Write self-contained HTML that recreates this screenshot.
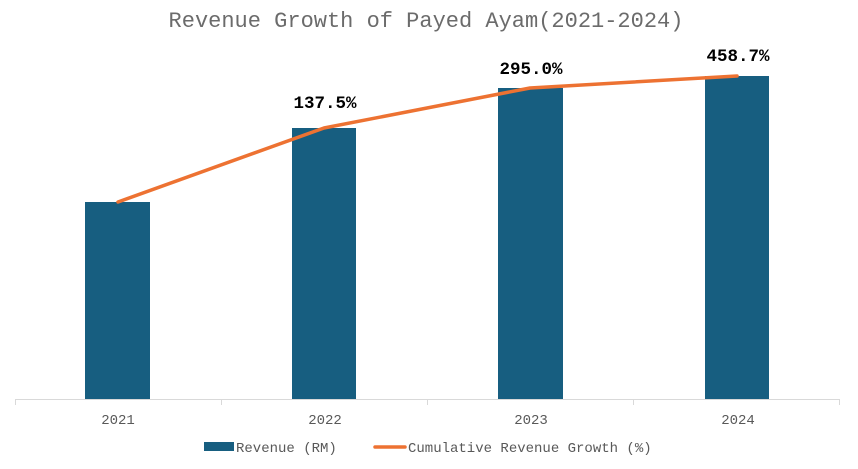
<!DOCTYPE html>
<html><head><meta charset="utf-8"><style>
body{margin:0;background:#fff;}
svg{display:block;}
</style></head><body>
<svg width="858" height="469" xmlns="http://www.w3.org/2000/svg" font-family="'Liberation Mono', monospace">
<text x="426" y="27" text-anchor="middle" font-size="22" fill="#6b6b6b">Revenue Growth of Payed Ayam(2021-2024)</text>
<rect x="85" y="202" width="65" height="197" fill="#175e80"/>
<rect x="292" y="128" width="64" height="271" fill="#175e80"/>
<rect x="498" y="88" width="65" height="311" fill="#175e80"/>
<rect x="705" y="76" width="64" height="323" fill="#175e80"/>
<line x1="15" y1="399.5" x2="840" y2="399.5" stroke="#d9d9d9" stroke-width="1"/>
<g stroke="#d9d9d9"><line x1="15.5" y1="399" x2="15.5" y2="405"/><line x1="221.5" y1="399" x2="221.5" y2="405"/><line x1="427.5" y1="399" x2="427.5" y2="405"/><line x1="633.5" y1="399" x2="633.5" y2="405"/><line x1="839.5" y1="399" x2="839.5" y2="405"/></g>
<polyline points="118,202 324,128 530,88 737,76" fill="none" stroke="#ed7232" stroke-width="3.5" stroke-linejoin="round" stroke-linecap="round"/>
<g font-size="17.5" font-weight="bold" fill="#000" text-anchor="middle">
<text x="325" y="108">137.5%</text><text x="531" y="74">295.0%</text><text x="738" y="61">458.7%</text></g>
<g font-size="14" fill="#595959" text-anchor="middle">
<text x="118" y="424">2021</text><text x="325" y="424">2022</text><text x="531" y="424">2023</text><text x="738" y="424">2024</text></g>
<rect x="204" y="442" width="30" height="9" fill="#175e80"/>
<text x="236" y="452" font-size="14" fill="#595959">Revenue (RM)</text>
<line x1="375" y1="447" x2="405" y2="447" stroke="#ed7232" stroke-width="3.5" stroke-linecap="round"/>
<text x="408" y="452" font-size="14" fill="#595959">Cumulative Revenue Growth (%)</text>
</svg>
</body></html>
